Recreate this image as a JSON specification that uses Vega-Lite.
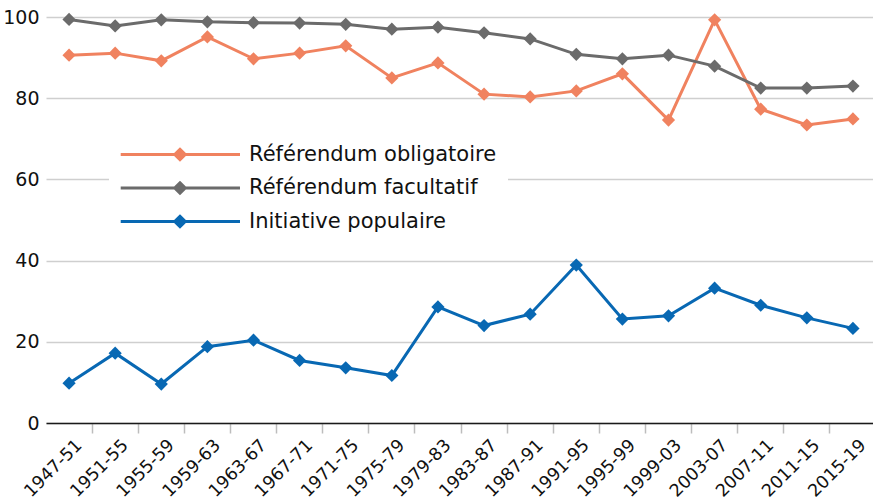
{
  "$schema": "https://vega.github.io/schema/vega-lite/v6.json",
  "width": 827,
  "height": 406,
  "autosize": {"type": "none"},
  "padding": {"left": 46, "top": 17, "right": 0, "bottom": 79},
  "background": "white",
  "config": {"view": {"stroke": null}},
  "data": {"values": [
    {"p":"1947-51","t":"Référendum obligatoire","v":90.6},
    {"p":"1951-55","t":"Référendum obligatoire","v":91.1},
    {"p":"1955-59","t":"Référendum obligatoire","v":89.2},
    {"p":"1959-63","t":"Référendum obligatoire","v":95.1},
    {"p":"1963-67","t":"Référendum obligatoire","v":89.7},
    {"p":"1967-71","t":"Référendum obligatoire","v":91.1},
    {"p":"1971-75","t":"Référendum obligatoire","v":92.9},
    {"p":"1975-79","t":"Référendum obligatoire","v":85.0},
    {"p":"1979-83","t":"Référendum obligatoire","v":88.7},
    {"p":"1983-87","t":"Référendum obligatoire","v":81.0},
    {"p":"1987-91","t":"Référendum obligatoire","v":80.3},
    {"p":"1991-95","t":"Référendum obligatoire","v":81.8},
    {"p":"1995-99","t":"Référendum obligatoire","v":86.0},
    {"p":"1999-03","t":"Référendum obligatoire","v":74.6},
    {"p":"2003-07","t":"Référendum obligatoire","v":99.3},
    {"p":"2007-11","t":"Référendum obligatoire","v":77.3},
    {"p":"2011-15","t":"Référendum obligatoire","v":73.4},
    {"p":"2015-19","t":"Référendum obligatoire","v":74.9},
    {"p":"1947-51","t":"Référendum facultatif","v":99.4},
    {"p":"1951-55","t":"Référendum facultatif","v":97.8},
    {"p":"1955-59","t":"Référendum facultatif","v":99.3},
    {"p":"1959-63","t":"Référendum facultatif","v":98.8},
    {"p":"1963-67","t":"Référendum facultatif","v":98.6},
    {"p":"1967-71","t":"Référendum facultatif","v":98.5},
    {"p":"1971-75","t":"Référendum facultatif","v":98.2},
    {"p":"1975-79","t":"Référendum facultatif","v":97.0},
    {"p":"1979-83","t":"Référendum facultatif","v":97.5},
    {"p":"1983-87","t":"Référendum facultatif","v":96.1},
    {"p":"1987-91","t":"Référendum facultatif","v":94.6},
    {"p":"1991-95","t":"Référendum facultatif","v":90.8},
    {"p":"1995-99","t":"Référendum facultatif","v":89.7},
    {"p":"1999-03","t":"Référendum facultatif","v":90.6},
    {"p":"2003-07","t":"Référendum facultatif","v":87.9},
    {"p":"2007-11","t":"Référendum facultatif","v":82.5},
    {"p":"2011-15","t":"Référendum facultatif","v":82.5},
    {"p":"2015-19","t":"Référendum facultatif","v":83.0},
    {"p":"1947-51","t":"Initiative populaire","v":9.8},
    {"p":"1951-55","t":"Initiative populaire","v":17.2},
    {"p":"1955-59","t":"Initiative populaire","v":9.6},
    {"p":"1959-63","t":"Initiative populaire","v":18.8},
    {"p":"1963-67","t":"Initiative populaire","v":20.4},
    {"p":"1967-71","t":"Initiative populaire","v":15.4},
    {"p":"1971-75","t":"Initiative populaire","v":13.6},
    {"p":"1975-79","t":"Initiative populaire","v":11.7},
    {"p":"1979-83","t":"Initiative populaire","v":28.6},
    {"p":"1983-87","t":"Initiative populaire","v":24.0},
    {"p":"1987-91","t":"Initiative populaire","v":26.8},
    {"p":"1991-95","t":"Initiative populaire","v":38.9},
    {"p":"1995-99","t":"Initiative populaire","v":25.6},
    {"p":"1999-03","t":"Initiative populaire","v":26.4},
    {"p":"2003-07","t":"Initiative populaire","v":33.2},
    {"p":"2007-11","t":"Initiative populaire","v":29.0},
    {"p":"2011-15","t":"Initiative populaire","v":25.9},
    {"p":"2015-19","t":"Initiative populaire","v":23.3}
  ]},
  "mark": {"type": "line", "strokeWidth": 3, "point": {"shape": "diamond", "size": 175, "filled": true}},
  "encoding": {
    "x": {
      "field": "p", "type": "ordinal", "sort": null, "title": null,
      "scale": {"type": "band", "paddingInner": 0, "paddingOuter": 0, "range": [0, 830]},
      "axis": {
        "bandPosition": 1, "labelAngle": -45, "labelAlign": "right", "labelBaseline": "top",
        "labelFont": "DejaVu Sans", "labelFontSize": 17.5, "labelColor": "#111111",
        "labelOffset": 4, "labelPadding": 3,
        "domainColor": "#1a1a1a", "domainWidth": 1.5,
        "tickColor": "#bdbdbd", "tickSize": 10, "tickWidth": 1.5,
        "grid": false
      }
    },
    "y": {
      "field": "v", "type": "quantitative", "title": null,
      "scale": {"domain": [0, 100], "nice": false},
      "axis": {
        "values": [0, 20, 40, 60, 80, 100], "domain": false, "ticks": false,
        "labelFont": "DejaVu Sans", "labelFontSize": 19, "labelColor": "#111111", "labelPadding": 7,
        "grid": true, "gridColor": "#cfcfcf", "gridWidth": 1.5
      }
    },
    "color": {
      "field": "t", "type": "nominal", "sort": null, "title": null,
      "scale": {"domain": ["Référendum obligatoire", "Référendum facultatif", "Initiative populaire"], "range": ["#F0825F", "#6B6B6B", "#0868B3"]},
      "legend": {
        "orient": "none", "legendX": 63, "legendY": 116, "direction": "vertical",
        "fillColor": "white", "padding": 11,
        "symbolType": "M-1.4,0L15.64,0M7.07,-0.75L7.82,0L7.07,0.75L6.32,0Z",
        "symbolSize": 196, "symbolStrokeWidth": 3,
        "labelFont": "DejaVu Sans", "labelFontSize": 21, "labelColor": "#111111",
        "labelOffset": 108, "rowPadding": 10.5, "labelLimit": 400,
        "encode": {"symbols": {"update": {"fill": {"scale": "color", "field": "value"}, "stroke": {"scale": "color", "field": "value"}, "opacity": {"value": 1}}}}
      }
    }
  }
}
